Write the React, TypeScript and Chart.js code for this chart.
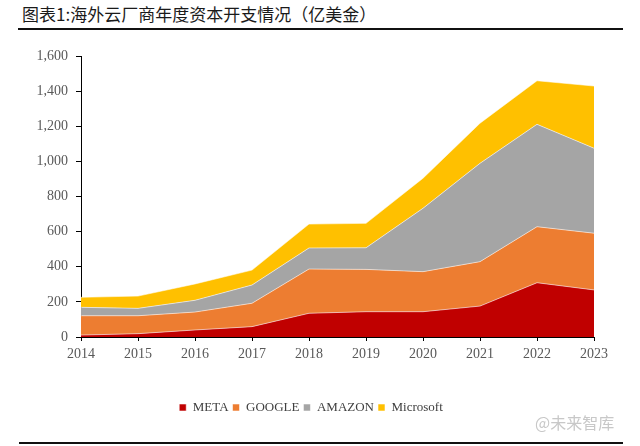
import React, { useEffect, useRef } from "react";
import { Chart, registerables } from "chart.js";

Chart.register(...registerables);

const years = ["2014", "2015", "2016", "2017", "2018", "2019", "2020", "2021", "2022", "2023"];
const meta = [11, 19, 40, 59, 135, 144, 144, 176, 309, 268];
const google = [110, 102, 102, 133, 252, 241, 228, 253, 319, 323];
const amazon = [48, 42, 67, 104, 120, 123, 361, 560, 583, 484];
const microsoft = [57, 70, 93, 85, 136, 139, 171, 228, 248, 354];
const seriesNames = ["META", "GOOGLE", "AMAZON", "Microsoft"];
const seriesColors = ["#C00000", "#ED7D31", "#A5A5A5", "#FFC000"];
const titleText = "图表1:海外云厂商年度资本开支情况（亿美金）";
const watermarkText = "@未来智库";

export default function App() {
  const ref = useRef<HTMLCanvasElement | null>(null);

  useEffect(() => {
    if (!ref.current) return;
    const values = [meta, google, amazon, microsoft];
    const chart = new Chart(ref.current, {
      type: "line",
      data: {
        labels: years,
        datasets: values.map((v, i) => ({
          label: seriesNames[i],
          data: v,
          backgroundColor: seriesColors[i],
          borderColor: "rgba(255,255,255,0.55)",
          borderWidth: 1,
          fill: i === 0 ? "origin" : "-1",
          pointRadius: 0,
          tension: 0,
        })),
      },
      options: {
        animation: false,
        responsive: false,
        maintainAspectRatio: false,
        layout: { padding: { top: 56, right: 46, bottom: 22, left: 28 } },
        plugins: {
          legend: {
            position: "bottom",
            labels: {
              boxWidth: 7,
              boxHeight: 7,
              padding: 4,
              color: "#404040",
              font: { family: "'Liberation Serif', serif", size: 13 },
            },
          },
          tooltip: { enabled: false },
        },
        scales: {
          x: {
            stacked: true,
            offset: false,
            border: { color: "#000", width: 1 },
            grid: { drawOnChartArea: false, drawTicks: true, tickLength: 4, color: "#000" },
            ticks: {
              color: "#595959",
              padding: 5,
              maxRotation: 0,
              font: { family: "'Liberation Serif', serif", size: 14 },
            },
            afterFit: (s: any) => {
              s.height = 60;
            },
          },
          y: {
            stacked: true,
            min: 0,
            max: 1600,
            border: { color: "#000", width: 1 },
            grid: { drawOnChartArea: false, drawTicks: true, tickLength: 5, color: "#000" },
            ticks: {
              stepSize: 200,
              color: "#595959",
              padding: 8,
              font: { family: "'Liberation Serif', serif", size: 14 },
              callback: (v: any) => Number(v).toLocaleString("en-US"),
            },
            afterFit: (s: any) => {
              s.width = 53;
            },
          },
        },
      },
    });
    return () => chart.destroy();
  }, []);

  return (
    <div style={{ position: "fixed", left: 0, top: 0, width: 640, height: 446, background: "#fff" }}>
      <div
        style={{
          position: "absolute",
          left: 22,
          top: 3,
          fontFamily: "'Noto Sans CJK SC', sans-serif",
          fontSize: 17,
          lineHeight: "22px",
          color: "#1a1a1a",
          whiteSpace: "nowrap",
        }}
      >
        {titleText}
      </div>
      <div style={{ position: "absolute", left: 18, top: 28, width: 605, height: 2, background: "#111" }} />
      <canvas ref={ref} width={640} height={446} style={{ position: "absolute", left: 0, top: 0 }} />
      <div
        style={{
          position: "absolute",
          left: 535,
          top: 412,
          fontFamily: "'Noto Sans CJK SC', sans-serif",
          fontSize: 16,
          lineHeight: "20px",
          color: "#c8c8c8",
          whiteSpace: "nowrap",
        }}
      >
        {watermarkText}
      </div>
      <div style={{ position: "absolute", left: 19, top: 442, width: 604, height: 2, background: "#111" }} />
    </div>
  );
}
